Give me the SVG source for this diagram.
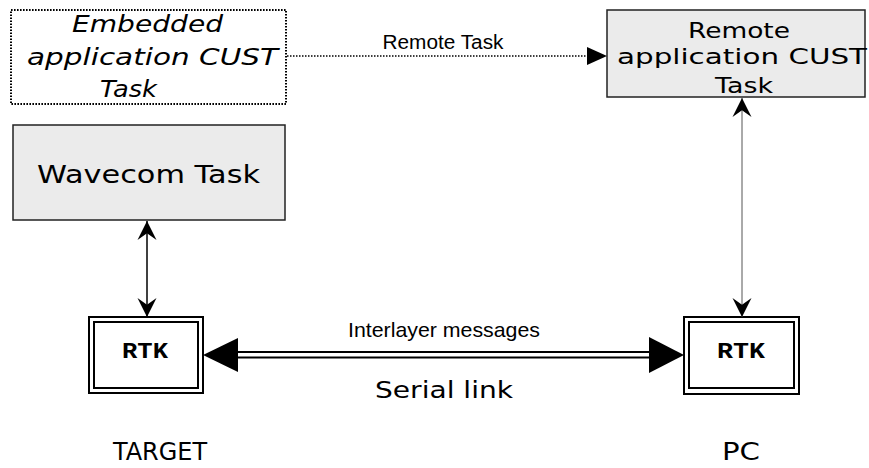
<svg xmlns="http://www.w3.org/2000/svg" width="869" height="468" viewBox="0 0 869 468">
<style>
.box{fill:#ebebeb;stroke:#222;stroke-width:1.5}
.dot{fill:#fff;stroke:#000;stroke-width:2;stroke-dasharray:1.6 1.4}
.rtk{fill:#fff;stroke:#000;stroke-width:2}
.t{font-family:"DejaVu Sans",Verdana,sans-serif;fill:#000;text-anchor:middle}
.a{font-family:"Liberation Sans",Arial,sans-serif;fill:#000;text-anchor:middle}
.m{font-family:"Liberation Mono","Courier New",monospace;font-weight:bold;fill:#000;text-anchor:middle}
</style>
<defs>
<marker id="barb" viewBox="0 0 20 20" refX="20" refY="10" markerWidth="19" markerHeight="20" markerUnits="userSpaceOnUse" orient="auto-start-reverse">
<path d="M0,0 L20,10 L0,20 L7,10 Z" fill="#000"/>
</marker>
</defs>
<rect width="869" height="468" fill="#fff"/>

<g id="embedded">
<rect class="dot" x="11" y="10" width="275" height="94"/>
<text class="t" font-style="italic" font-size="23" x="147.5" y="32" textLength="151" lengthAdjust="spacingAndGlyphs">Embedded</text>
<text class="t" font-style="italic" font-size="23" x="152.5" y="65" textLength="251" lengthAdjust="spacingAndGlyphs">application CUST</text>
<text class="t" font-style="italic" font-size="23" x="128.5" y="97" textLength="57" lengthAdjust="spacingAndGlyphs">Task</text>
</g>

<g id="remote">
<rect class="box" x="607" y="10" width="258" height="87"/>
<text class="t" font-size="21.5" x="739" y="38" textLength="102" lengthAdjust="spacingAndGlyphs">Remote</text>
<text class="t" font-size="21.5" x="742" y="64" textLength="250" lengthAdjust="spacingAndGlyphs">application CUST</text>
<text class="t" font-size="21.5" x="744" y="93" textLength="58" lengthAdjust="spacingAndGlyphs">Task</text>
</g>

<g id="wavecom">
<rect class="box" x="13" y="125" width="272" height="95"/>
<text class="t" font-size="24" x="148.5" y="183" textLength="223" lengthAdjust="spacingAndGlyphs">Wavecom Task</text>
</g>

<g id="rtk-target">
<rect class="rtk" x="89" y="317" width="114" height="76"/>
<rect class="rtk" x="94" y="322" width="104" height="66"/>
<text class="m" font-size="22" x="145" y="357.5" textLength="46" lengthAdjust="spacingAndGlyphs">RTK</text>
</g>

<g id="rtk-pc">
<rect class="rtk" x="684" y="317" width="115" height="77"/>
<rect class="rtk" x="689" y="322" width="105" height="66"/>
<text class="m" font-size="22" x="741" y="358" textLength="48" lengthAdjust="spacingAndGlyphs">RTK</text>
</g>

<g id="connectors">
<line x1="287" y1="56" x2="589" y2="56" stroke="#000" stroke-width="1.5" stroke-dasharray="1.5 1.5"/>
<polygon points="607,56 587,47 587,65" fill="#000"/>
<path d="M147,221 L147,317" stroke="#000" stroke-width="1.5" fill="none" marker-start="url(#barb)" marker-end="url(#barb)"/>
<path d="M742,98 L742,317" stroke="#555" stroke-width="1" fill="none" marker-start="url(#barb)" marker-end="url(#barb)"/>
<line x1="236" y1="352" x2="651" y2="352" stroke="#000" stroke-width="2"/>
<line x1="236" y1="357.5" x2="651" y2="357.5" stroke="#000" stroke-width="2"/>
<polygon points="203,355 238,338 238,372" fill="#000"/>
<polygon points="684,355 649,337 649,373" fill="#000"/>
</g>

<g id="labels">
<text class="a" font-size="20" x="443" y="49" textLength="121" lengthAdjust="spacingAndGlyphs">Remote Task</text>
<text class="a" font-size="21" x="444" y="336.5" textLength="192" lengthAdjust="spacingAndGlyphs">Interlayer messages</text>
<text class="t" font-size="23" x="444" y="398" textLength="138" lengthAdjust="spacingAndGlyphs">Serial link</text>
<text class="t" font-size="24" x="160" y="460" textLength="94" lengthAdjust="spacingAndGlyphs">TARGET</text>
<text class="t" font-size="24" x="741" y="460" textLength="38" lengthAdjust="spacingAndGlyphs">PC</text>
</g>
</svg>
